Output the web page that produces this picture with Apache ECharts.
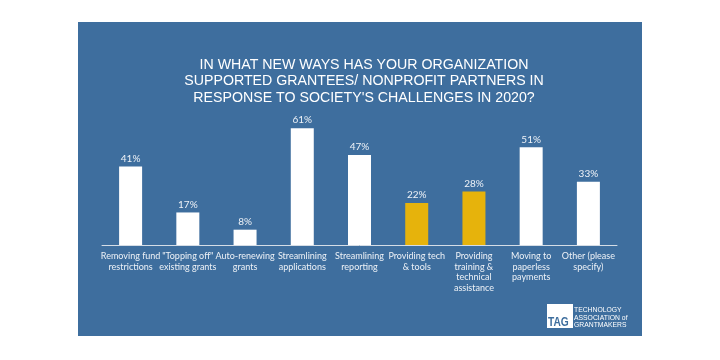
<!DOCTYPE html>
<html><head><meta charset="utf-8">
<script src="https://cdn.jsdelivr.net/npm/echarts@6/dist/echarts.min.js"></script>
<style>html,body{margin:0;padding:0;background:#fff}#c{width:720px;height:360px}</style>
</head><body><div id="c"></div>
<script>
const categories = ["Removing fund\nrestrictions", "\"Topping off\"\nexisting grants", "Auto-renewing\ngrants", "Streamlining\napplications", "Streamlining\nreporting", "Providing tech\n& tools", "Providing\ntraining &\ntechnical\nassistance", "Moving to\npaperless\npayments", "Other (please\nspecify)"];
const values = [41, 17, 8, 61, 47, 22, 28, 51, 33];
const highlighted = [false, false, false, false, false, true, true, false, false];
const titleText = "IN WHAT NEW WAYS HAS YOUR ORGANIZATION\nSUPPORTED GRANTEES/ NONPROFIT PARTNERS IN\nRESPONSE TO SOCIETY'S CHALLENGES IN 2020?";

const BG = '#3E6E9E', GOLD = '#E6B30C';
const chart = echarts.init(document.getElementById('c'), null, {renderer: 'canvas'});
chart.setOption({
  backgroundColor: '#ffffff',
  animation: false,
  title: {
    text: titleText, left: 359, top: 52, textAlign: 'center',
    textStyle: {color: '#ffffff', fontFamily: 'Liberation Sans', fontWeight: 'normal', fontSize: 14.2, lineHeight: 16.3, align: 'center'}
  },
  graphic: [
    {type: 'rect', z: -10, shape: {x: 78, y: 22, width: 564, height: 314}, style: {fill: BG}},
    {type: 'group', left: 547, top: 304, children: [
      {type: 'rect', shape: {x: 0, y: 0, width: 26, height: 24}, style: {fill: '#ffffff'}},
      {type: 'text', x: 1, y: 13, scaleX: 0.85, style: {text: 'TAG', fill: BG, font: 'bold 12px Liberation Sans'}},
      {type: 'text', x: 27, y: 2, scaleX: 0.85, style: {text: 'TECHNOLOGY\nASSOCIATION of\nGRANTMAKERS', fill: '#ffffff', font: '8px Liberation Sans', lineHeight: 7.7}}
    ]}
  ],
  grid: {left: 102, right: 103, top: 111, bottom: 115, containLabel: false},
  xAxis: {
    type: 'category', data: categories,
    axisLine: {lineStyle: {color: '#d5dde6', width: 1}},
    axisTick: {show: false},
    axisLabel: {interval: 0, color: '#eef2f7', fontFamily: 'Lato', fontSize: 9, lineHeight: 10.5, margin: 6}
  },
  yAxis: {type: 'value', min: 0, max: 70, show: false, splitLine: {show: false}},
  series: [{
    type: 'bar', barWidth: 23,
    data: values.map((v, i) => ({value: v, itemStyle: {color: highlighted[i] ? GOLD : '#ffffff'}})),
    label: {show: true, position: 'top', distance: 3, formatter: '{c}%', color: '#eef2f7', fontFamily: 'Lato', fontSize: 10}
  }]
});
</script></body></html>
